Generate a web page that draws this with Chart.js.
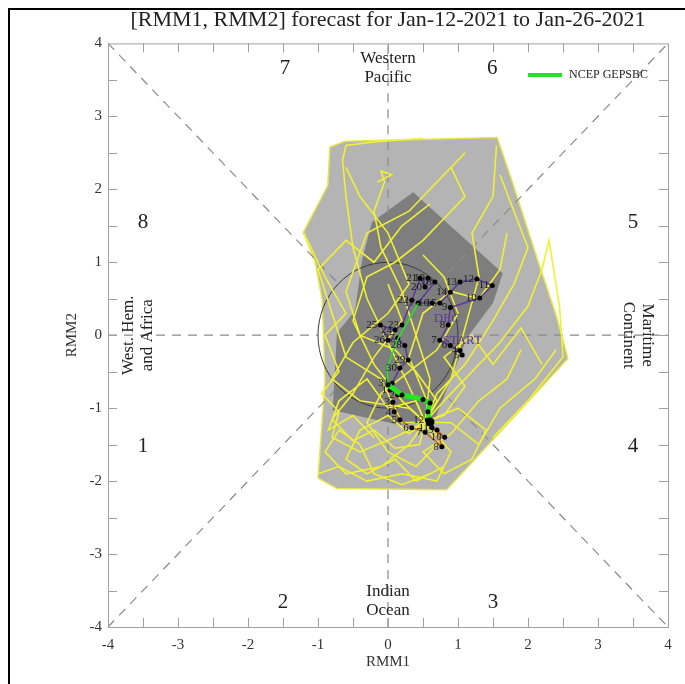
<!DOCTYPE html>
<html>
<head>
<meta charset="utf-8">
<script src="https://cdn.jsdelivr.net/npm/chart.js@4.4.1/dist/chart.umd.min.js"></script>
<style>
html,body{margin:0;padding:0;background:#fff}
</style>
</head>
<body>
<canvas id="myChart" width="685" height="684"></canvas>
<script>
// axis tick labels
const axisTicks = [-4, -3, -2, -1, 0, 1, 2, 3, 4]

// ensemble spread envelopes (RMM1, RMM2)
const outerEnvelope = [
  [-0.83, 2.58], [-0.61, 2.66], [1.56, 2.71], [1.77, 2.12], [2.13, 1.05], [2.41, 0.25], [2.57, -0.32],
  [0.84, -2.12], [-0.73, -2.10], [-1.0, -1.96], [-0.9, -0.62], [-0.94, 0.48], [-1.04, 1.0],
  [-1.21, 1.41], [-0.86, 2.05], [-0.83, 2.58]
]
const innerEnvelope = [
  [0.36, 1.96], [1.64, 0.85], [1.5, 0.44], [1.13, -0.03], [0.89, -0.62], [0.67, -1.16], [0.17, -1.23],
  [-0.79, -1.03], [-0.73, 0.03], [-0.47, 0.34], [-0.37, 1.03], [-0.23, 1.55], [0.36, 1.96]
]

// ensemble member tracks
const memberTracks = [
  [[0.53,-1.19],[0.8,-0.9],[1.2,-0.5],[1.6,-0.1],[2.0,0.4],[2.2,0.9],[2.3,1.3],[2.45,0.4],[2.5,-0.3],[2.0,-0.9],[1.5,-1.4]],
  [[0.53,-1.19],[0.3,-0.7],[0.0,-0.1],[-0.3,0.5],[-0.5,1.2],[-0.6,1.9],[-0.65,2.4],[-0.6,2.6],[-0.2,2.65],[0.5,2.7]],
  [[0.53,-1.19],[0.3,-1.5],[-0.1,-1.8],[-0.6,-1.9],[-0.9,-1.6],[-0.7,-1.3],[-0.4,-1.5],[-0.2,-1.9],[0.2,-2.05],[0.6,-1.9]],
  [[0.53,-1.19],[0.9,-0.6],[1.1,0.1],[1.3,0.8],[1.2,1.4],[1.5,1.9],[1.55,2.6]],
  [[0.53,-1.19],[0.6,-0.6],[0.4,0.0],[0.2,0.6],[-0.1,1.2],[-0.2,1.7],[-0.05,2.1],[-0.1,2.25],[0.05,2.2],[-0.15,2.1]],
  [[0.53,-1.19],[0.1,-1.4],[-0.4,-1.6],[-0.8,-1.4],[-0.7,-1.05],[-0.95,-0.8],[-0.7,-0.5],[-0.9,0.0],[-0.6,0.3],[-0.9,0.8],[-1.2,1.4]],
  [[0.53,-1.19],[0.7,-1.5],[0.4,-1.8],[0.0,-1.6],[-0.3,-1.2],[-0.1,-0.8],[0.3,-0.5],[0.7,-0.2],[1.0,0.3],[0.8,0.8],[0.5,1.1]],
  [[0.53,-1.19],[0.2,-0.9],[-0.2,-0.4],[-0.5,0.2],[-0.3,0.8],[0.1,1.0],[0.5,1.3],[0.8,1.6],[1.1,1.9],[0.9,2.3]],
  [[0.53,-1.19],[1.0,-1.0],[1.4,-1.3],[1.2,-1.7],[0.8,-1.9],[0.5,-1.6],[0.9,-1.35],[1.3,-0.9],[1.7,-0.6],[1.9,-0.2]],
  [[0.53,-1.19],[0.3,-1.0],[-0.4,-0.9],[-0.8,-0.6],[-0.5,-0.1],[0.0,0.3],[0.3,0.7],[0.0,1.4],[-0.4,1.9],[-0.6,2.3]],
  [[0.53,-1.19],[0.9,-1.6],[0.7,-2.0],[0.2,-1.9],[-0.3,-2.0],[-0.7,-1.8],[-1.0,-1.9]],
  [[0.53,-1.19],[0.7,-0.8],[1.1,-0.4],[1.5,0.2],[1.8,0.7],[2.0,1.2],[1.8,1.7],[1.6,2.2]],
  [[0.53,-1.19],[0.2,-1.2],[-0.1,-0.6],[-0.6,-0.3],[-0.8,0.3],[-1.0,0.9],[-0.6,1.3],[-0.2,1.0],[0.2,1.5],[0.6,1.8]],
  [[0.53,-1.19],[0.6,-1.0],[0.3,-0.3],[0.5,0.3],[0.9,0.6],[1.3,0.5],[1.6,0.9],[1.7,1.4]],
  [[0.53,-1.19],[0.9,-1.2],[1.3,-1.5],[1.6,-1.0],[2.1,-0.6],[2.4,-0.2]],
  [[0.53,-1.19],[0.3,-1.35],[0.0,-1.1],[-0.4,-1.3],[-0.6,-1.7],[-0.3,-1.9],[0.1,-1.7],[0.4,-2.0],[0.8,-1.8]],
  [[0.53,-1.19],[0.4,-0.9],[0.0,-1.0],[-0.3,-0.6],[-0.7,-0.9],[-0.85,-1.3],[-0.5,-1.1],[-0.2,-1.4]],
  [[0.53,-1.19],[0.8,-1.1],[1.1,-0.7],[0.8,-0.3],[1.2,0.0],[1.5,-0.4],[1.9,0.1],[2.2,-0.4]],
  [[0.53,-1.19],[0.45,-1.5],[0.1,-1.55],[-0.2,-1.3],[-0.5,-1.45],[-0.8,-1.15],[-0.5,-0.8],[-0.2,-0.3],[0.2,0.2],[0.0,0.7]],
  [[0.53,-1.19],[0.7,-0.9],[0.4,-0.5],[0.1,-0.2],[-0.4,0.0],[-0.6,0.6],[-0.3,1.4],[0.3,1.7],[0.7,2.1],[1.1,2.5]]
]

// observed track, Dec 4 .. Jan 12
const obsRmm1 = [1.03,1.06,0.89,0.74,0.86,0.89,1.31,1.49,1.27,1.03,0.89,0.74,0.63,0.43,0.67,0.57,0.53,0.46,0.34,0.2,0.1,-0.11,0.0,0.14,0.24,0.29,0.17,0.06,
                 0.03,0.14,0.07,0.09,0.17,0.34,0.53,0.77,0.7,0.81,0.63,0.56]
const obsRmm2 = [-0.21,-0.27,-0.14,-0.07,0.14,0.38,0.51,0.68,0.77,0.73,0.59,0.44,0.44,0.44,0.73,0.78,0.66,0.78,0.48,0.14,0.07,0.14,-0.07,-0.04,-0.14,-0.34,-0.45,-0.66,
                 -0.75,-0.82,-0.92,-1.05,-1.16,-1.27,-1.33,-1.53,-1.3,-1.4,-1.27,-1.16]
const obsDays = ['4','5','6','7','8','9','10','11','12','13','14','15','16','17','18','19','20','21','22','23','24','25','26','27','28','29','30','31',
                 '1','2','3','4','5','6','7','8','9','10','11','12']
const decCount = 28

// NCEP GEPSBC ensemble mean forecast
const fcRmm1 = [0.6, 0.57, 0.6, 0.5, 0.2, 0.0, -0.01, 0.13, 0.43]
const fcRmm2 = [-1.19, -1.05, -0.93, -0.88, -0.82, -0.68, -0.45, -0.07, 0.44]

const phaseLabels = ['1','2','3','4','5','6','7','8']
const phaseSpots = [[-3.5,-1.53],[-1.5,-3.66],[1.5,-3.66],[3.5,-1.53],[3.5,1.55],[1.49,3.66],[-1.47,3.66],[-3.5,1.55]]

const guides = [
  [-4,-4,-0.707,-0.707],[0.707,0.707,4,4],[-4,4,-0.707,0.707],[0.707,-0.707,4,-4],
  [-4,0,-1,0],[1,0,4,0],[0,-4,0,-1],[0,1,0,4]
]

const serif = '"Liberation Serif", "DejaVu Serif", serif'
const purple = '#5a3a9a'
const brown = '#b8662e'

function pts(list){ return list.map(p => ({x: p[0], y: p[1]})) }

let datasets = []
datasets.push({
  id: 'outer', data: pts(outerEnvelope), showLine: true, fill: 'shape',
  backgroundColor: '#b4b4b4', borderColor: '#e6e64a', borderWidth: 1.5, pointRadius: 0, order: 20
})
datasets.push({
  id: 'inner', data: pts(innerEnvelope), showLine: true, fill: 'shape',
  backgroundColor: '#7e7e7e', borderColor: 'rgba(0,0,0,0)', borderWidth: 0, pointRadius: 0, order: 19
})
memberTracks.forEach((t, i) => {
  datasets.push({
    id: 'member' + i, data: pts(t), showLine: true, fill: false,
    borderColor: '#f0f034', borderWidth: 1.6, pointRadius: 0, order: 10
  })
})
datasets.push({
  id: 'obs', data: obsRmm1.map((v, i) => ({x: v, y: obsRmm2[i]})), showLine: true, fill: false,
  borderColor: purple, borderWidth: 1.5, pointRadius: 2.5, pointBackgroundColor: '#000', pointBorderWidth: 0,
  segment: { borderColor: ctx => ctx.p1DataIndex >= decCount ? brown : purple },
  order: 3
})
datasets.push({
  id: 'fc', data: fcRmm1.map((v, i) => ({x: v, y: fcRmm2[i]})), showLine: true, fill: false,
  borderColor: '#22e622', borderWidth: 5, pointRadius: [4.5,2.5,2.5,2.5,2.5,2.5,0,0,0], pointBackgroundColor: '#000', pointBorderWidth: 0,
  segment: { borderWidth: ctx => ctx.p0DataIndex < 5 ? 5 : 1.5 },
  order: 2
})

const overlay = {
  id: 'overlay',
  afterDatasetDraw(chart, args) {
    if (chart.data.datasets[args.index].id !== 'inner') return
    const ctx = chart.ctx, xs = chart.scales.x, ys = chart.scales.y
    ctx.save()
    ctx.strokeStyle = '#8a8a8a'
    ctx.lineWidth = 1.2
    ctx.setLineDash([9, 7])
    guides.forEach(g => {
      ctx.beginPath()
      ctx.moveTo(xs.getPixelForValue(g[0]), ys.getPixelForValue(g[1]))
      ctx.lineTo(xs.getPixelForValue(g[2]), ys.getPixelForValue(g[3]))
      ctx.stroke()
    })
    ctx.setLineDash([])
    const cx = xs.getPixelForValue(0), cy = ys.getPixelForValue(0)
    ctx.strokeStyle = '#3a3a3a'
    ctx.lineWidth = 1
    ctx.beginPath()
    ctx.ellipse(cx, cy, xs.getPixelForValue(1) - cx, cy - ys.getPixelForValue(1), 0, 0, Math.PI * 2)
    ctx.stroke()
    ctx.restore()
  },
  afterDatasetsDraw(chart) {
    const ctx = chart.ctx, xs = chart.scales.x, ys = chart.scales.y
    const meta = chart.getDatasetMeta(chart.data.datasets.findIndex(d => d.id === 'obs'))
    ctx.save()
    ctx.font = '11px ' + serif
    ctx.fillStyle = '#1a1a1a'
    ctx.textAlign = 'right'
    ctx.textBaseline = 'middle'
    meta.data.forEach((p, i) => { ctx.fillText(obsDays[i], p.x - 3, p.y) })
    ctx.fillStyle = purple
    ctx.font = '13px ' + serif
    ctx.textAlign = 'center'
    ctx.fillText('DEC', xs.getPixelForValue(0.84), ys.getPixelForValue(0.23))
    ctx.fillText('START', xs.getPixelForValue(1.06), ys.getPixelForValue(-0.07))
    ctx.restore()
  },
  afterDraw(chart) {
    const ctx = chart.ctx, xs = chart.scales.x, ys = chart.scales.y
    const a = chart.chartArea
    ctx.save()
    // frame + inward ticks
    ctx.strokeStyle = '#a0a0a0'
    ctx.lineWidth = 1
    ctx.strokeRect(a.left + 0.5, a.top + 0.5, a.right - a.left, a.bottom - a.top)
    for (let v = -3.5; v < 4; v += 0.5) {
      const px = Math.round(xs.getPixelForValue(v)) + 0.5
      const py = Math.round(ys.getPixelForValue(v)) + 0.5
      ctx.beginPath()
      ctx.moveTo(px, a.bottom); ctx.lineTo(px, a.bottom - 9)
      ctx.moveTo(px, a.top); ctx.lineTo(px, a.top + 9)
      ctx.moveTo(a.left, py); ctx.lineTo(a.left + 9, py)
      ctx.moveTo(a.right, py); ctx.lineTo(a.right - 9, py)
      ctx.stroke()
    }
    // phase numbers
    ctx.fillStyle = '#222'
    ctx.textAlign = 'center'
    ctx.textBaseline = 'middle'
    ctx.font = '21px ' + serif
    phaseLabels.forEach((t, i) => {
      ctx.fillText(t, xs.getPixelForValue(phaseSpots[i][0]), ys.getPixelForValue(phaseSpots[i][1]))
    })
    // region names
    ctx.font = '17px ' + serif
    ctx.fillText('Western', xs.getPixelForValue(0), ys.getPixelForValue(3.79))
    ctx.fillText('Pacific', xs.getPixelForValue(0), ys.getPixelForValue(3.53))
    ctx.fillText('Indian', xs.getPixelForValue(0), ys.getPixelForValue(-3.52))
    ctx.fillText('Ocean', xs.getPixelForValue(0), ys.getPixelForValue(-3.78))
    ctx.save()
    ctx.translate(xs.getPixelForValue(-3.71), ys.getPixelForValue(0))
    ctx.rotate(-Math.PI / 2)
    ctx.fillText('West. Hem.', 0, 0)
    ctx.fillText('and Africa', 0, 19)
    ctx.restore()
    ctx.save()
    ctx.translate(xs.getPixelForValue(3.71), ys.getPixelForValue(0))
    ctx.rotate(Math.PI / 2)
    ctx.fillText('Maritime', 0, 0)
    ctx.fillText('Continent', 0, 19)
    ctx.restore()
    // legend
    ctx.strokeStyle = '#22e622'
    ctx.lineWidth = 4
    ctx.beginPath()
    ctx.moveTo(528, 75); ctx.lineTo(562, 75)
    ctx.stroke()
    ctx.fillStyle = '#222'
    ctx.font = '12px ' + serif
    ctx.textAlign = 'left'
    ctx.fillText('NCEP GEPSBC', 569, 75)
    // outer picture border
    ctx.strokeStyle = '#000'
    ctx.lineWidth = 2
    ctx.beginPath()
    ctx.moveTo(9, 684); ctx.lineTo(9, 9); ctx.lineTo(685, 9)
    ctx.stroke()
    ctx.restore()
  }
}

const myChart = new Chart(document.getElementById('myChart'), {
  type: 'scatter',
  data: { datasets: datasets },
  plugins: [overlay],
  options: {
    responsive: false,
    animation: false,
    events: [],
    layout: { padding: { left: 59, right: 17, top: 0, bottom: 9 } },
    plugins: {
      legend: { display: false },
      tooltip: { enabled: false },
      title: {
        display: true,
        fullSize: false,
        text: '[RMM1, RMM2] forecast for Jan-12-2021 to Jan-26-2021',
        color: '#222',
        font: { family: serif, size: 22, weight: 'normal' },
        padding: { top: 7, bottom: 10 }
      }
    },
    scales: {
      x: {
        type: 'linear', min: -4, max: 4,
        afterBuildTicks: s => { s.ticks = axisTicks.map(v => ({value: v})) },
        grid: { display: false, drawTicks: false },
        border: { display: false },
        ticks: { color: '#333', font: { family: serif, size: 15 }, padding: 9, callback: v => v },
        title: { display: true, text: 'RMM1', color: '#333', font: { family: serif, size: 15 }, padding: { top: 0, bottom: 4 } },
        afterFit: s => { s.height = 48 }
      },
      y: {
        type: 'linear', min: -4, max: 4,
        afterBuildTicks: s => { s.ticks = axisTicks.map(v => ({value: v})) },
        grid: { display: false, drawTicks: false },
        border: { display: false },
        ticks: { color: '#333', font: { family: serif, size: 15 }, padding: 6, callback: v => v },
        title: { display: true, text: 'RMM2', color: '#333', font: { family: serif, size: 15 }, padding: { top: 4, bottom: 0 } },
        afterFit: s => { s.width = 49 }
      }
    }
  }
})
</script>
</body>
</html>
